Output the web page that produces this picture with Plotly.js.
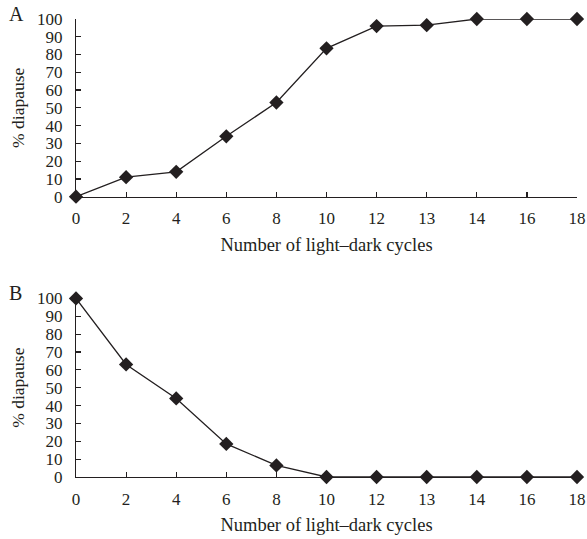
<!DOCTYPE html>
<html>
<head>
<meta charset="utf-8">
<script src="https://cdn.plot.ly/plotly-3.0.1.min.js"></script>
<style>
  html, body { margin: 0; padding: 0; background: #fff; }
  #chart { width: 587px; height: 539px; }
</style>
</head>
<body>
<div id="chart"></div>
<script>
// Light–dark cycle counts (shown as evenly spaced categories)
const cycles = ['0', '2', '4', '6', '8', '10', '12', '13', '14', '16', '18'];
// Panel A: % diapause
const diapauseA = [0, 11, 14, 34, 53, 83.5, 96, 96.5, 100, 100, 100];
// Panel B: % diapause
const diapauseB = [100, 63, 44, 18.5, 6.5, 0, 0, 0, 0, 0, 0];
const yTicks = [0, 10, 20, 30, 40, 50, 60, 70, 80, 90, 100];

const ink = '#231f20';
const serif = 'Liberation Serif, Times New Roman, serif';

function series(y, xa, ya) {
  return {
    x: cycles, y: y, xaxis: xa, yaxis: ya,
    type: 'scatter', mode: 'lines+markers',
    line: { color: ink, width: 1.3 },
    marker: { symbol: 'diamond', size: 11, color: ink },
    cliponaxis: false, showlegend: false, hoverinfo: 'x+y'
  };
}

function xAxis(anchor) {
  return {
    type: 'category', range: [0, 10], anchor: anchor,
    showline: true, linecolor: ink, linewidth: 1.2,
    ticks: 'inside', ticklen: 5, tickcolor: ink, tickwidth: 1.2,
    showgrid: false, zeroline: false,
    tickfont: { family: serif, size: 17, color: ink },
    ticklabelstandoff: 6,
    title: { text: 'Number of light\u2013dark cycles', font: { family: serif, size: 18.5, color: ink }, standoff: 10 }
  };
}

function yAxis(anchor, domain) {
  return {
    domain: domain, anchor: anchor, range: [0, 100],
    tickvals: yTicks, ticktext: yTicks.map(String),
    showline: true, linecolor: ink, linewidth: 1.2,
    ticks: 'inside', ticklen: 5, tickcolor: ink, tickwidth: 1.2,
    showgrid: false, zeroline: false,
    tickfont: { family: serif, size: 17, color: ink },
    ticklabelstandoff: 9,
    title: { text: '% diapause', font: { family: serif, size: 17.5, color: ink }, standoff: 7 }
  };
}

const data = [series(diapauseA, 'x', 'y'), series(diapauseB, 'x2', 'y2')];

const layout = {
  width: 587, height: 539,
  margin: { l: 76, r: 10, t: 19, b: 62 },
  paper_bgcolor: '#fff', plot_bgcolor: '#fff',
  font: { family: serif, color: ink },
  xaxis: xAxis('y'),
  yaxis: yAxis('x', [0.612, 1]),
  xaxis2: xAxis('y2'),
  yaxis2: yAxis('x2', [0, 0.39]),
  annotations: [
    { text: 'A', xref: 'paper', yref: 'paper', x: -0.138, y: 1.012, xanchor: 'left', yanchor: 'middle',
      showarrow: false, font: { family: serif, size: 20, color: ink } },
    { text: 'B', xref: 'paper', yref: 'paper', x: -0.138, y: 0.402, xanchor: 'left', yanchor: 'middle',
      showarrow: false, font: { family: serif, size: 20, color: ink } }
  ]
};

Plotly.newPlot('chart', data, layout, { displayModeBar: false, staticPlot: true });
</script>
</body>
</html>
